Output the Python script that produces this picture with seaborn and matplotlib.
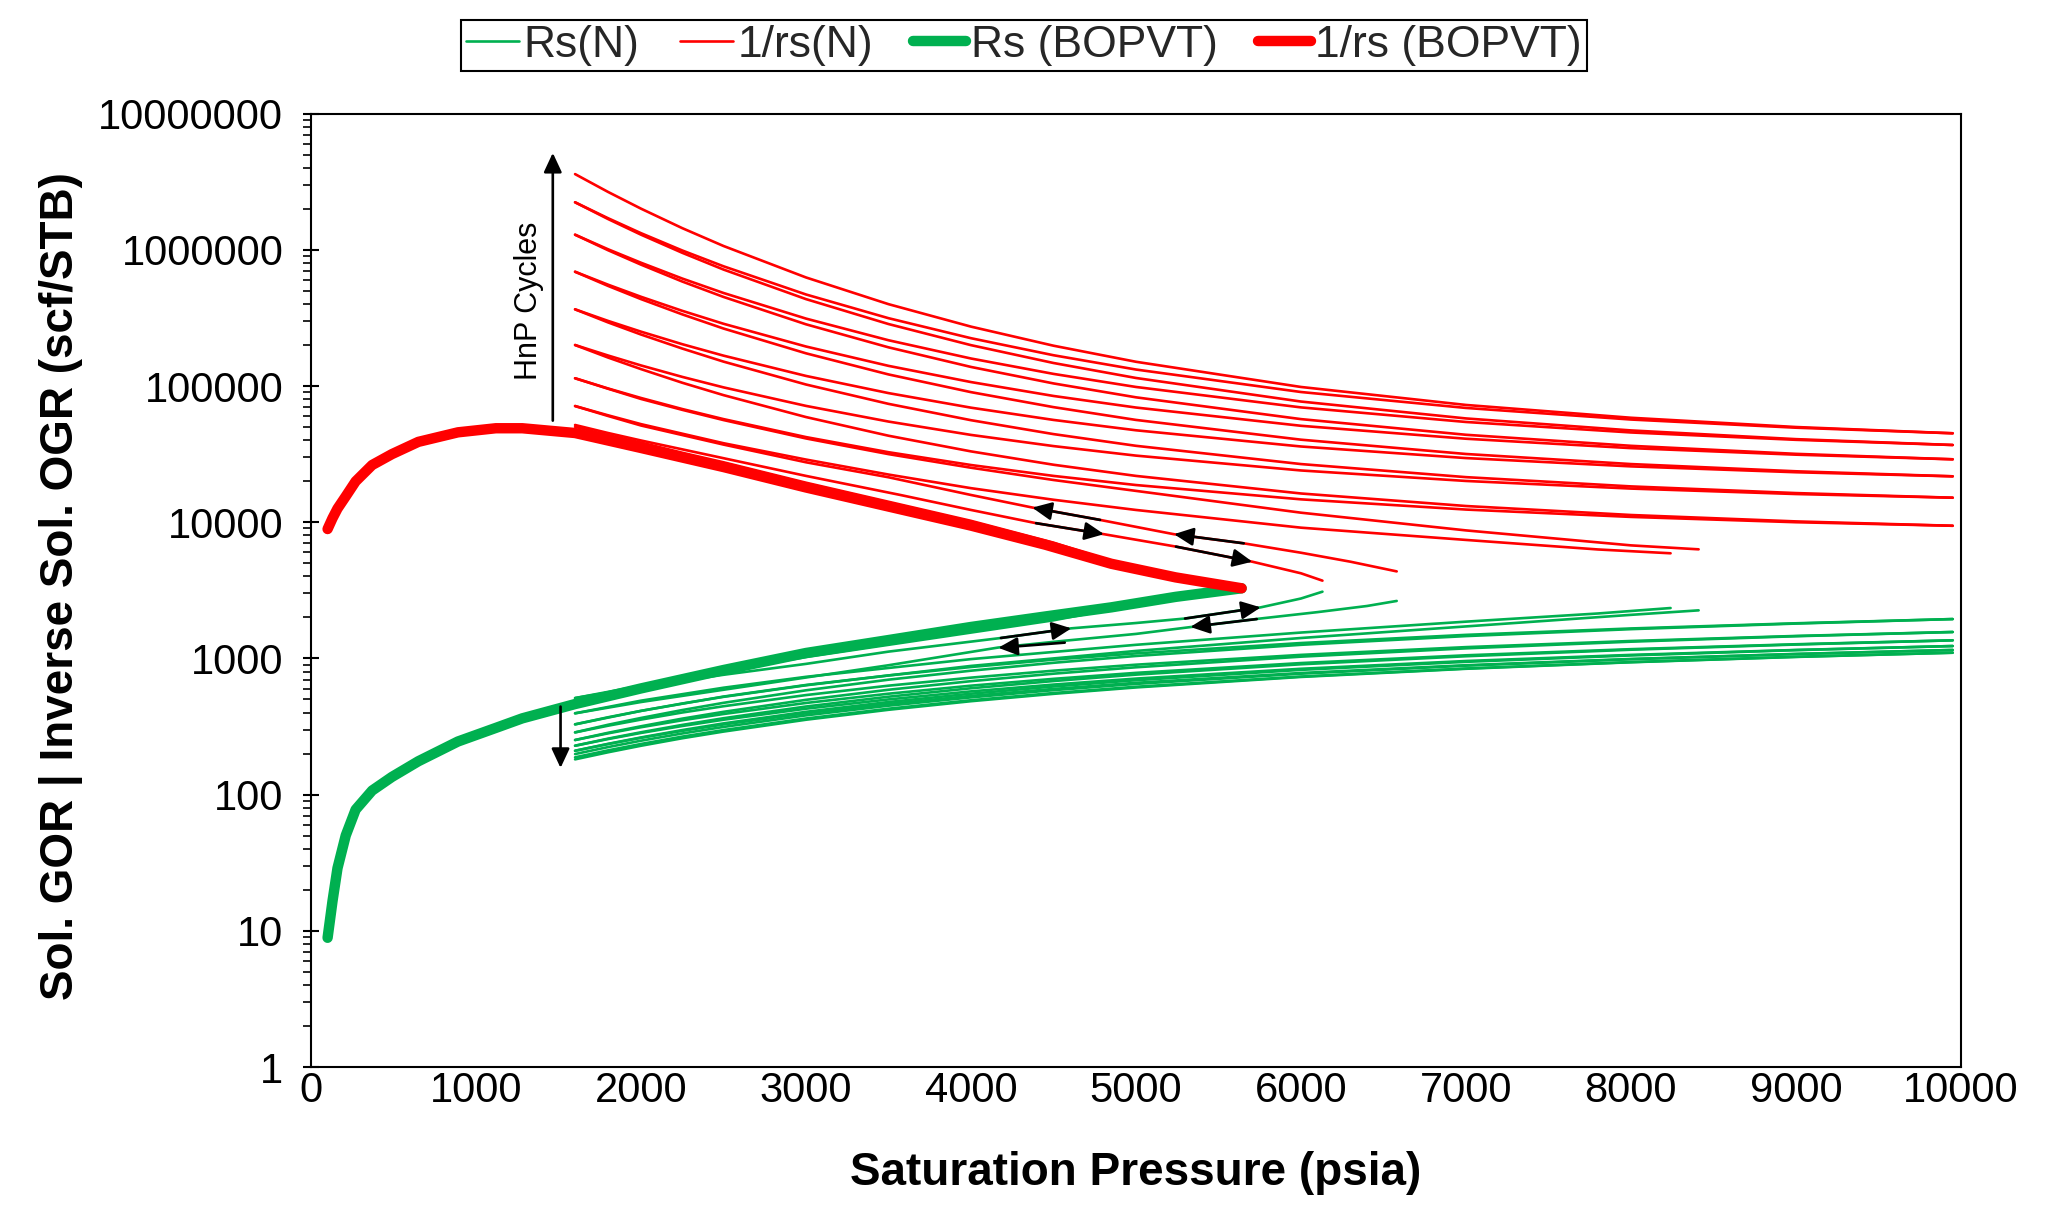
import matplotlib
matplotlib.use("Agg")
import matplotlib.pyplot as plt
import numpy as np
import pandas as pd
import seaborn as sns
from matplotlib.lines import Line2D

GREEN = "#00B050"
RED = "#FF0000"

# ---------------- data (stored as log10) ----------------
bopvt_p = [100, 130, 160, 210, 270, 370, 490, 650, 890, 1120, 1280, 1600, 2000,
           2500, 3000, 3500, 4000, 4450, 4850, 5240, 5640]
bopvt_rs_log10 = [0.949, 1.22, 1.46, 1.70, 1.89, 2.03, 2.13, 2.245, 2.39, 2.49, 2.56,
                  2.665, 2.78, 2.915, 3.04, 3.135, 3.231, 3.308, 3.375, 3.452, 3.515]
bopvt_inv_rs_log10 = [3.95, 4.03, 4.10, 4.19, 4.30, 4.42, 4.50, 4.59, 4.66, 4.69, 4.69,
                      4.655, 4.545, 4.405, 4.255, 4.115, 3.975, 3.835, 3.695, 3.595, 3.515]

grid15 = [1600, 1800, 2000, 2250, 2500, 3000, 3500, 4000, 4500, 5000, 6000, 7000,
          8000, 9000, 9950]

inv_rs_n_p = [grid15] * 12 + [
    [1600, 1800, 2000, 2250, 2500, 3000, 3500, 4000, 4500, 5000, 6000, 7000, 8000, 8410],
    [1600, 1800, 2000, 2250, 2500, 3000, 3500, 4000, 4500, 5000, 6000, 7000, 7800, 8240],
    [1600, 1800, 2000, 2250, 2500, 3000, 3500, 4000, 4371, 4782, 5230, 5653, 6000, 6300, 6580],
    [1600, 1800, 2000, 2250, 2500, 3000, 3572, 4000, 4394, 4806, 5242, 5705, 6000, 6130],
    [1600, 1800, 2000, 2250, 2500, 3000, 3572, 4000, 4500, 4890],
]
inv_rs_n_log10 = [
    [6.556, 6.425, 6.302, 6.159, 6.028, 5.797, 5.601, 5.436, 5.296, 5.178, 4.993, 4.861, 4.767, 4.699, 4.653],
    [6.349, 6.232, 6.122, 5.995, 5.879, 5.672, 5.498, 5.351, 5.226, 5.121, 4.956, 4.839, 4.754, 4.694, 4.653],
    [6.349, 6.226, 6.111, 5.978, 5.855, 5.638, 5.455, 5.300, 5.169, 5.059, 4.886, 4.762, 4.674, 4.610, 4.567],
    [6.111, 6.004, 5.905, 5.789, 5.683, 5.495, 5.336, 5.202, 5.089, 4.993, 4.843, 4.736, 4.659, 4.605, 4.567],
    [6.111, 5.997, 5.891, 5.767, 5.654, 5.453, 5.284, 5.140, 5.019, 4.917, 4.757, 4.642, 4.561, 4.502, 4.462],
    [5.839, 5.744, 5.655, 5.552, 5.457, 5.290, 5.148, 5.029, 4.927, 4.842, 4.708, 4.613, 4.544, 4.496, 4.462],
    [5.839, 5.735, 5.638, 5.526, 5.422, 5.240, 5.085, 4.955, 4.845, 4.751, 4.606, 4.501, 4.427, 4.374, 4.337],
    [5.563, 5.478, 5.399, 5.307, 5.223, 5.074, 4.948, 4.841, 4.751, 4.675, 4.556, 4.471, 4.410, 4.367, 4.337],
    [5.563, 5.467, 5.378, 5.275, 5.179, 5.011, 4.869, 4.749, 4.647, 4.561, 4.427, 4.331, 4.263, 4.214, 4.180],
    [5.301, 5.224, 5.151, 5.067, 4.990, 4.854, 4.739, 4.641, 4.559, 4.489, 4.380, 4.303, 4.247, 4.207, 4.180],
    [5.301, 5.209, 5.124, 5.024, 4.933, 4.772, 4.635, 4.520, 4.422, 4.340, 4.211, 4.119, 4.053, 4.006, 3.974],
    [5.057, 4.982, 4.912, 4.831, 4.757, 4.625, 4.514, 4.420, 4.340, 4.273, 4.168, 4.093, 4.039, 4.000, 3.974],
    [5.057, 4.980, 4.905, 4.825, 4.750, 4.615, 4.500, 4.400, 4.310, 4.230, 4.070, 3.940, 3.830, 3.801],
    [4.853, 4.785, 4.720, 4.650, 4.580, 4.460, 4.350, 4.250, 4.165, 4.090, 3.960, 3.870, 3.800, 3.772],
    [4.853, 4.780, 4.710, 4.640, 4.570, 4.440, 4.330, 4.200, 4.108, 4.017, 3.912, 3.845, 3.776, 3.710, 3.639],
    [4.714, 4.655, 4.600, 4.535, 4.470, 4.340, 4.200, 4.090, 3.993, 3.912, 3.821, 3.710, 3.625, 3.571],
    [4.700, 4.640, 4.585, 4.510, 4.440, 4.290, 4.130, 4.010, 3.850, 3.700],
]

rs_n_p = [grid15] * 12 + [
    [1600, 2000, 2500, 3000, 4000, 5000, 6000, 7000, 8000, 8410],
    [1600, 2000, 2500, 3000, 4000, 5000, 6000, 7000, 7800, 8240],
    [1600, 2000, 2500, 3000, 3500, 4165, 4568, 5000, 5329, 5732, 6100, 6400, 6580],
    [1600, 2000, 2500, 3000, 3500, 4181, 4608, 5000, 5297, 5756, 6000, 6130],
    [1600, 2000, 2500, 3000, 3500, 4000, 4500, 4890],
]
rs_n_log10 = [
    [2.259, 2.311, 2.359, 2.414, 2.463, 2.550, 2.623, 2.686, 2.740, 2.787, 2.864, 2.924, 2.972, 3.011, 3.042],
    [2.274, 2.325, 2.372, 2.426, 2.474, 2.559, 2.631, 2.693, 2.746, 2.792, 2.867, 2.926, 2.973, 3.012, 3.042],
    [2.298, 2.349, 2.396, 2.449, 2.497, 2.582, 2.653, 2.714, 2.767, 2.813, 2.888, 2.947, 2.994, 3.032, 3.062],
    [2.322, 2.371, 2.417, 2.468, 2.515, 2.597, 2.666, 2.725, 2.776, 2.821, 2.893, 2.950, 2.996, 3.033, 3.062],
    [2.322, 2.373, 2.420, 2.474, 2.523, 2.608, 2.680, 2.741, 2.794, 2.840, 2.916, 2.975, 3.022, 3.061, 3.091],
    [2.359, 2.408, 2.453, 2.504, 2.550, 2.631, 2.699, 2.758, 2.808, 2.852, 2.924, 2.981, 3.026, 3.062, 3.091],
    [2.359, 2.411, 2.458, 2.512, 2.561, 2.647, 2.719, 2.781, 2.834, 2.881, 2.957, 3.016, 3.064, 3.102, 3.133],
    [2.401, 2.450, 2.495, 2.546, 2.592, 2.673, 2.741, 2.800, 2.850, 2.894, 2.966, 3.023, 3.068, 3.104, 3.133],
    [2.401, 2.454, 2.502, 2.558, 2.608, 2.696, 2.770, 2.833, 2.888, 2.935, 3.013, 3.074, 3.123, 3.163, 3.194],
    [2.457, 2.506, 2.551, 2.603, 2.649, 2.731, 2.800, 2.859, 2.910, 2.954, 3.026, 3.083, 3.128, 3.165, 3.194],
    [2.457, 2.513, 2.563, 2.621, 2.674, 2.766, 2.844, 2.910, 2.968, 3.018, 3.100, 3.164, 3.215, 3.256, 3.289],
    [2.516, 2.568, 2.615, 2.669, 2.718, 2.803, 2.875, 2.937, 2.991, 3.037, 3.113, 3.173, 3.220, 3.258, 3.289],
    [2.516, 2.615, 2.720, 2.805, 2.945, 3.055, 3.150, 3.235, 3.320, 3.353],
    [2.597, 2.690, 2.785, 2.865, 2.995, 3.100, 3.190, 3.270, 3.330, 3.370],
    [2.597, 2.680, 2.770, 2.860, 2.950, 3.080, 3.130, 3.180, 3.230, 3.290, 3.340, 3.385, 3.422],
    [2.709, 2.790, 2.880, 2.960, 3.050, 3.150, 3.221, 3.260, 3.293, 3.375, 3.440, 3.490],
    [2.709, 2.800, 2.910, 3.010, 3.100, 3.190, 3.280, 3.370],
]

# annotation arrows: (x_tail, y_tail, x_head, y_head)
arrows_small = [
    (4782, 10400, 4371, 12800), (4394, 9840, 4806, 8170),
    (5653, 7000, 5230, 8170), (5242, 6620, 5705, 5130),
    (5297, 1963, 5756, 2371), (5732, 1945, 5329, 1702),
    (4181, 1413, 4608, 1663), (4568, 1306, 4165, 1197),
]
hnp_arrow = (1465, 55700, 1465, 5150000)
rs_arrow = (1512, 443, 1512, 157)

x_ticks = [0, 1000, 2000, 3000, 4000, 5000, 6000, 7000, 8000, 9000, 10000]
y_ticks = [1, 10, 100, 1000, 10000, 100000, 1000000, 10000000]
y_tick_labels = ["1", "10", "100", "1000", "10000", "100000", "1000000", "10000000"]
legend_labels = ["Rs(N)", "1/rs(N)", "Rs (BOPVT)", "1/rs (BOPVT)"]


def long_frame(p_lists, v_lists):
    rows = []
    for i, (ps, vs) in enumerate(zip(p_lists, v_lists)):
        for k, (p, v) in enumerate(zip(ps, vs)):
            rows.append({"curve": i, "order": k, "p": p, "v": 10 ** v})
    return pd.DataFrame(rows)


df_rs_n = long_frame(rs_n_p, rs_n_log10)
df_inv_n = long_frame(inv_rs_n_p, inv_rs_n_log10)
df_bopvt = pd.DataFrame({"p": bopvt_p,
                         "rs": [10 ** v for v in bopvt_rs_log10],
                         "inv": [10 ** v for v in bopvt_inv_rs_log10]})

# ---------------- style ----------------
sns.set_theme(style="ticks")
plt.rcParams["font.family"] = ["Liberation Sans", "DejaVu Sans"]
plt.rcParams["axes.linewidth"] = 1.5

fig = plt.figure(figsize=(20.48, 12.31), dpi=100)
ax = fig.add_axes([0.1519, 0.1332, 0.8056, 0.7745])
ax.set_yscale("log")

thin = 1.9
thick = 7.5
sns.lineplot(data=df_rs_n, x="p", y="v", units="curve", estimator=None, sort=False,
             color=GREEN, lw=thin, ax=ax, legend=False)
sns.lineplot(data=df_inv_n, x="p", y="v", units="curve", estimator=None, sort=False,
             color=RED, lw=thin, ax=ax, legend=False)
sns.lineplot(data=df_bopvt, x="p", y="rs", estimator=None, sort=False,
             color=GREEN, lw=thick, ax=ax, legend=False, solid_capstyle="round")
sns.lineplot(data=df_bopvt, x="p", y="inv", estimator=None, sort=False,
             color=RED, lw=thick, ax=ax, legend=False, solid_capstyle="round")

ax.set_xlim(0, 10000)
ax.set_ylim(1, 1e7)

# arrows
aprops = dict(arrowstyle="-|>,head_length=0.9,head_width=0.42", color="black",
              lw=1.9, mutation_scale=13, shrinkA=0, shrinkB=0)
for (x0, y0, x1, y1) in arrows_small + [hnp_arrow, rs_arrow]:
    ax.annotate("", xy=(x1, y1), xytext=(x0, y0), arrowprops=aprops, zorder=6)
ax.text(1322, 4.25e5, "HnP Cycles", rotation=90, ha="center", va="center",
        fontsize=22, color="black")

# ticks
ax.set_xticks(x_ticks)
ax.set_xticklabels([str(t) for t in x_ticks])
ax.set_yticks(y_ticks)
ax.set_yticklabels(y_tick_labels)
ax.yaxis.set_minor_locator(matplotlib.ticker.LogLocator(base=10, subs=np.arange(2, 10), numticks=20))
ax.yaxis.set_minor_formatter(matplotlib.ticker.NullFormatter())
ax.tick_params(axis="y", which="major", direction="inout", length=12, width=1.5,
               labelsize=30, pad=14, colors="black")
ax.tick_params(axis="y", which="minor", direction="out", length=6, width=1.2, colors="black")
ax.tick_params(axis="x", which="major", direction="out", length=0, width=1.5,
               labelsize=30, pad=3, colors="black")
for s in ax.spines.values():
    s.set_color("black")
    s.set_linewidth(1.5)

ax.set_xlabel("Saturation Pressure (psia)", fontsize=33, fontweight="bold", color="black")
ax.set_ylabel("Sol. GOR | Inverse Sol. OGR (scf/STB)", fontsize=33, fontweight="bold",
              color="black")
ax.xaxis.label.set_va("center")
ax.xaxis.set_label_coords(0.5, -0.111)
ax.yaxis.label.set_va("center")
ax.yaxis.set_label_coords(-0.1515, 0.5045)

handles = [Line2D([], [], color=GREEN, lw=thin),
           Line2D([], [], color=RED, lw=thin),
           Line2D([], [], color=GREEN, lw=thick, solid_capstyle="round"),
           Line2D([], [], color=RED, lw=thick, solid_capstyle="round")]
leg = fig.legend(handles, legend_labels, loc="center", bbox_to_anchor=(0.5, 0.963),
                 ncol=4, fontsize=32, frameon=True, fancybox=False, framealpha=1,
                 edgecolor="black", handlelength=1.2, handletextpad=0.1,
                 columnspacing=0.9, borderpad=0.12, borderaxespad=0)
leg.get_frame().set_linewidth(1.5)

fig.savefig("out.png", dpi=100, facecolor="white")
